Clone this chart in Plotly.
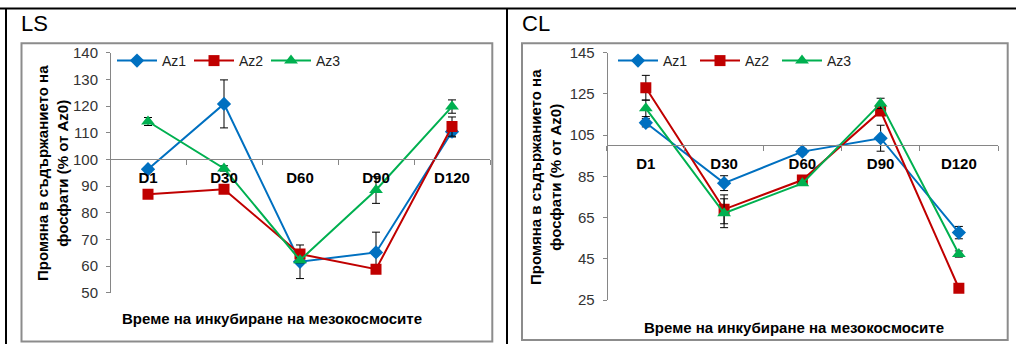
import plotly.graph_objects as go

# Sampling days
days = ["D1", "D30", "D60", "D90", "D120"]
series_names = ["Az1", "Az2", "Az3"]

# LS mesocosms: phosphate content change (% of Az0)
ls_az1 = [96.3, 120.8, 61.6, 65.1, 110.4]
ls_az2 = [86.9, 88.8, 64.5, 58.8, 112.3]
ls_az3 = [114.2, 96.6, 62.2, 88.5, 119.8]
ls_err_az1 = [1.0, 9.0, 6.3, 7.6, 2.0]
ls_err_az2 = [1.0, 1.0, 1.0, 1.0, 3.6]
ls_err_az3 = [1.5, 1.0, 1.0, 5.0, 2.5]

# CL mesocosms
cl_az1 = [111.0, 81.7, 97.0, 103.5, 57.7]
cl_az2 = [128.0, 69.0, 83.2, 116.7, 30.7]
cl_az3 = [118.0, 67.1, 81.6, 120.4, 47.3]
cl_err_az1 = [2.0, 3.6, 1.5, 6.3, 3.0]
cl_err_az2 = [6.0, 7.0, 1.0, 2.0, 1.0]
cl_err_az3 = [4.0, 7.0, 1.0, 2.5, 1.5]

colors = ["#0070C0", "#C00000", "#00B050"]
symbols = ["diamond", "square", "triangle-up"]
sizes = [11, 11, 12]

W, H = 1016, 344
FONT = "Liberation Sans, Arial, sans-serif"


def px(x):
    return x / W


def py(y):
    return 1 - y / H


fig = go.Figure()

panels = [
    ("x", "y", "legend", [ls_az1, ls_az2, ls_az3], [ls_err_az1, ls_err_az2, ls_err_az3]),
    ("x2", "y2", "legend2", [cl_az1, cl_az2, cl_az3], [cl_err_az1, cl_err_az2, cl_err_az3]),
]
for xa, ya, lg, vals, errs in panels:
    for i, name in enumerate(series_names):
        fig.add_trace(go.Scatter(
            x=days, y=vals[i], name=name, xaxis=xa, yaxis=ya, legend=lg,
            mode="lines+markers",
            line=dict(color=colors[i], width=2),
            marker=dict(symbol=symbols[i], size=sizes[i], color=colors[i]),
            error_y=dict(type="data", array=errs[i], visible=True,
                         color="black", thickness=1, width=4),
        ))

axis_gray = "#868686"
tick_font = dict(family=FONT, size=15, color="#333")
cat_font = dict(family=FONT, size=15, color="black", weight="bold")

common_x = dict(type="category", range=[-0.5, 4.5], showline=True, linecolor=axis_gray,
                linewidth=1, ticks="outside", tickson="boundaries", ticklen=5,
                tickcolor=axis_gray, tickfont=cat_font, showgrid=False, zeroline=False,
                anchor="free", fixedrange=True, automargin=False, ticklabelstandoff=5)
common_y = dict(showline=True, linecolor=axis_gray, linewidth=1, ticks="outside",
                ticklen=4, tickcolor=axis_gray, tickfont=tick_font, showgrid=False,
                zeroline=False, anchor="free", fixedrange=True, automargin=False,
                ticklabelstandoff=5)

legend_common = dict(orientation="h", xanchor="left", yanchor="middle",
                     font=dict(family=FONT, size=14, color="#222"),
                     bgcolor="rgba(0,0,0,0)", itemwidth=40, entrywidthmode="pixels")

fig.update_layout(
    template="none",
    width=W, height=H,
    margin=dict(l=0, r=0, t=0, b=0, pad=0, autoexpand=False),
    paper_bgcolor="white", plot_bgcolor="rgba(0,0,0,0)",
    font=dict(family=FONT, color="black"),
    xaxis=dict(common_x, domain=[px(110), px(490)], position=py(159.3)),
    yaxis=dict(common_y, domain=[py(292.7), py(52.7)], range=[50, 140], dtick=10,
               position=px(110)),
    xaxis2=dict(common_x, domain=[px(606.7), px(998)], position=py(145)),
    yaxis2=dict(common_y, domain=[py(300), py(52.7)], range=[25, 145], tick0=25, dtick=20,
                position=px(606.7)),
    legend=dict(legend_common, x=px(112), y=py(61), entrywidth=22),
    legend2=dict(legend_common, x=px(613), y=py(61), entrywidth=27),
    showlegend=True,
)

# Table-like outer rules and panel frames
shapes = [
    dict(type="line", xref="paper", yref="paper", x0=0, x1=1, y0=py(8.5), y1=py(8.5),
         line=dict(color="black", width=2)),
    dict(type="line", xref="paper", yref="paper", x0=px(6), x1=px(6), y0=0, y1=py(8.5),
         line=dict(color="black", width=2)),
    dict(type="line", xref="paper", yref="paper", x0=px(507), x1=px(507), y0=0, y1=py(8.5),
         line=dict(color="black", width=2)),
    dict(type="rect", xref="paper", yref="paper", x0=px(21.5), x1=px(492.3),
         y0=py(341.5), y1=py(43.3), line=dict(color="#8c8c8c", width=2)),
    dict(type="rect", xref="paper", yref="paper", x0=px(522), x1=px(1007.7),
         y0=py(340), y1=py(43.3), line=dict(color="#8c8c8c", width=2)),
]
fig.update_layout(shapes=shapes)

ytitle = "Промяна в съдържанието на<br>фосфати (% от Az0)"
xtitle = "Време на инкубиране на мезокосмосите"
title_font = dict(family=FONT, size=15, color="black", weight="bold")
annotations = [
    dict(text="LS", x=px(19), y=py(23), xanchor="left", yanchor="middle", showarrow=False,
         font=dict(family=FONT, size=22, color="black")),
    dict(text="CL", x=px(520), y=py(23), xanchor="left", yanchor="middle", showarrow=False,
         font=dict(family=FONT, size=22, color="black")),
    dict(text=ytitle, x=px(52), y=py(173), textangle=-90, showarrow=False,
         xanchor="center", yanchor="middle", font=title_font),
    dict(text=ytitle, x=px(545), y=py(177), textangle=-90, showarrow=False,
         xanchor="center", yanchor="middle", font=title_font),
    dict(text=xtitle, x=px(272), y=py(318), showarrow=False,
         xanchor="center", yanchor="middle", font=title_font),
    dict(text=xtitle, x=px(794), y=py(327), showarrow=False,
         xanchor="center", yanchor="middle", font=title_font),
]
for a in annotations:
    a.update(xref="paper", yref="paper")
fig.update_layout(annotations=annotations)

fig.write_html("out.html")
